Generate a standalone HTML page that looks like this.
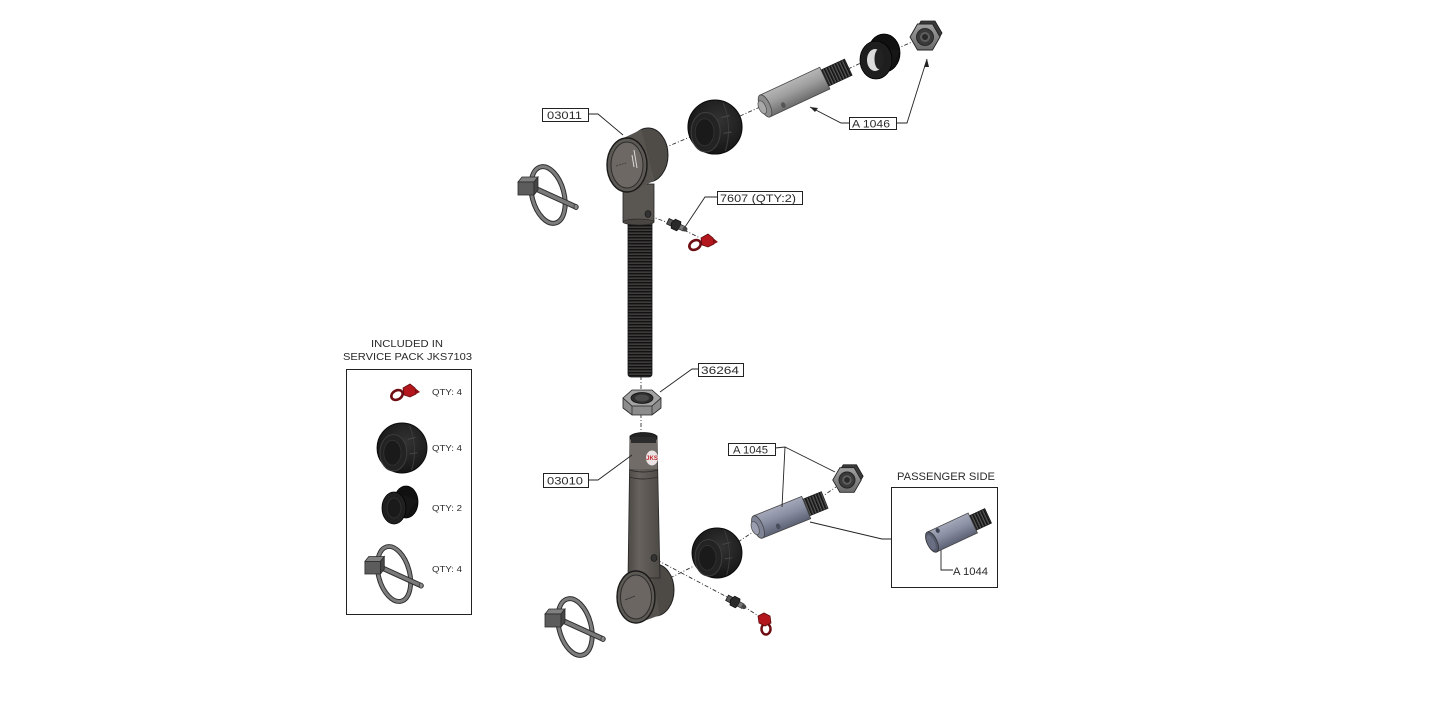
<!DOCTYPE html>
<html><head><meta charset="utf-8">
<style>
html,body{margin:0;padding:0;background:#fff;}
svg{display:block;}
text{font-family:"Liberation Sans",sans-serif;fill:#2a2a2a;}
</style></head><body>
<svg width="1440" height="706" viewBox="0 0 1440 706" xmlns="http://www.w3.org/2000/svg">
<defs>
 <pattern id="thr" width="6" height="3" patternUnits="userSpaceOnUse">
  <rect width="6" height="3" fill="#2e2d2c"/>
  <rect width="6" height="1.1" fill="#121212"/>
  <rect y="2" width="6" height="0.5" fill="#4d4b49"/>
 </pattern>
 <pattern id="thrv" width="3" height="6" patternUnits="userSpaceOnUse">
  <rect width="3" height="6" fill="#353535"/>
  <rect width="1.1" height="6" fill="#111"/>
  <rect x="2" width="0.6" height="6" fill="#666"/>
 </pattern>
 <linearGradient id="pinG" x1="0" y1="0" x2="0" y2="1">
  <stop offset="0" stop-color="#b6b6b6"/><stop offset="0.45" stop-color="#9d9d9d"/><stop offset="1" stop-color="#6c6c6c"/>
 </linearGradient>
 <linearGradient id="pinB" x1="0" y1="0" x2="0" y2="1">
  <stop offset="0" stop-color="#a4a8ba"/><stop offset="0.45" stop-color="#8a8ea2"/><stop offset="1" stop-color="#5d6174"/>
 </linearGradient>
 <radialGradient id="ballG" cx="0.58" cy="0.38" r="0.65">
  <stop offset="0" stop-color="#333"/><stop offset="1" stop-color="#141414"/>
 </radialGradient>
 <linearGradient id="tubeG" x1="0" y1="0" x2="1" y2="0">
  <stop offset="0" stop-color="#4c4844"/><stop offset="0.35" stop-color="#67625d"/><stop offset="1" stop-color="#4d4945"/>
 </linearGradient>
 <linearGradient id="nutG" x1="0" y1="0" x2="0" y2="1">
  <stop offset="0" stop-color="#a0a0a0"/><stop offset="1" stop-color="#6a6a6a"/>
 </linearGradient>
 <g id="lynch">
  <ellipse cx="0" cy="0" rx="16" ry="29" transform="rotate(-15)" fill="none" stroke="#2e2e2e" stroke-width="5"/>
  <ellipse cx="0" cy="0" rx="16" ry="29" transform="rotate(-15)" fill="none" stroke="#7d7d7d" stroke-width="3"/>
  <line x1="-16" y1="-8" x2="28" y2="12" stroke="#2e2e2e" stroke-width="5.5" stroke-linecap="round"/>
  <line x1="-16" y1="-8" x2="28" y2="12" stroke="#7a7a7a" stroke-width="3.5" stroke-linecap="round"/>
  <ellipse cx="28" cy="12" rx="2" ry="2.6" fill="#8a8a8a" stroke="#333" stroke-width="0.8"/>
  <polygon points="-30,-13 -26,-18 -10,-18 -14,-13" fill="#808080" stroke="#2a2a2a" stroke-width="0.8"/>
  <rect x="-30" y="-13" width="16" height="13" fill="#5c5c5c" stroke="#2a2a2a" stroke-width="0.8"/>
  <polygon points="-14,-13 -10,-18 -10,-5 -14,0" fill="#464646" stroke="#2a2a2a" stroke-width="0.8"/>
 </g>
 <g id="ball">
  <circle r="26" fill="url(#ballG)" stroke="#0a0a0a" stroke-width="1"/>
  <ellipse cx="-9" cy="5" rx="14" ry="19" fill="#232323" stroke="#3e3e3e" stroke-width="1"/>
  <ellipse cx="-10" cy="5" rx="9" ry="13" fill="#1a1a1a" stroke="#333" stroke-width="0.8"/>
  <path d="M8,-23 Q17,0 10,23" fill="none" stroke="#3c3c3c" stroke-width="1"/>
  <path d="M6,-9 l8,-2 M8,6 l8,-1" stroke="#474747" stroke-width="1"/>
 </g>
 <g id="cap">
  <ellipse cx="-9" cy="4" rx="6" ry="4.5" transform="rotate(-30 -9 4)" fill="none" stroke="#6e0e12" stroke-width="2.6"/>
  <path d="M-3,-3 L4,-7 L9,-3 L10,3 L4,6 L-2,4 Z" fill="#b3161c" stroke="#5e0a0d" stroke-width="0.8"/>
  <path d="M9,-3 L14,1 L10,3 Z" fill="#8a1015"/>
 </g>
 <g id="zerk">
  <rect x="-9" y="-3" width="6" height="6" fill="#555" stroke="#1a1a1a" stroke-width="0.8"/>
  <polygon points="-3,-5 3,-5 5,0 3,5 -3,5 -5,0" fill="#2a2a2a" stroke="#111" stroke-width="0.8"/>
  <rect x="4" y="-2.5" width="5" height="5" fill="#777" stroke="#222" stroke-width="0.6"/>
  <circle cx="10" cy="0" r="2.4" fill="#444"/>
 </g>
 <g id="hexnut">
  <polygon points="17,-4 10,-16 -4,-16 -11,-4 -4,8 10,8" fill="#3a3a3a" stroke="#1a1a1a" stroke-width="0.8"/>
  <polygon points="15,0 7.5,13 -7.5,13 -15,0 -7.5,-13 7.5,-13" fill="url(#nutG)" stroke="#222" stroke-width="0.9"/>
  <circle r="8.5" fill="#3a3a3a" stroke="#1c1c1c" stroke-width="0.8"/>
  <circle r="5" fill="#5e5e5e"/>
  <circle r="3" fill="#2a2a2a"/>
 </g>
</defs>

<!-- ================= dashed axis lines ================= -->
<g stroke="#333" stroke-width="0.9" fill="none" stroke-dasharray="4 2 1 2">
 <line x1="664" y1="148" x2="690" y2="137"/>
 <line x1="740" y1="116" x2="760" y2="107"/>
 <line x1="848" y1="69" x2="863" y2="62"/>
 <line x1="896" y1="49" x2="912" y2="42"/>
 <line x1="650" y1="216" x2="669" y2="223"/>
 <line x1="684" y1="230" x2="700" y2="238"/>
 <line x1="641" y1="376" x2="641" y2="389"/>
 <line x1="641" y1="414" x2="641" y2="433"/>
 <line x1="657" y1="560" x2="727" y2="597"/>
 <line x1="743" y1="606" x2="757" y2="615"/>
 <line x1="670" y1="578" x2="694" y2="566"/>
 <line x1="738" y1="542" x2="756" y2="530"/>
 <line x1="820" y1="498" x2="836" y2="487"/>
</g>

<!-- ================= upper eye 03011 ================= -->
<rect x="628" y="218" width="24" height="159" rx="3" fill="url(#thr)" stroke="#111" stroke-width="0.8"/>
<rect x="623" y="184" width="31" height="38" fill="#5a5651" stroke="#222" stroke-width="0.8"/>
<ellipse cx="638.5" cy="222" rx="15.5" ry="3" fill="#4a4642" stroke="#222" stroke-width="0.6"/>
<ellipse cx="648" cy="214" rx="3" ry="3.5" fill="#333" stroke="#111" stroke-width="0.6"/>
<ellipse cx="648" cy="155" rx="20" ry="27" fill="#4f4b47" stroke="#1e1e1e" stroke-width="1"/>
<polygon points="620.4,139.5 641.4,129.5 654.6,180.5 633.6,190.5" fill="#57534e"/>
<ellipse cx="627" cy="165" rx="20" ry="27" fill="#5d5954" stroke="#1a1a1a" stroke-width="1.4"/>
<ellipse cx="627" cy="165" rx="16" ry="23" fill="#6d6863" stroke="#2c2c2c" stroke-width="1"/>
<path d="M634,150 l3,18 M632,155 l2,12" stroke="#d8d8d8" stroke-width="1"/>
<path d="M616,166 l10,-3" stroke="#333" stroke-width="0.7" stroke-dasharray="2 1"/>

<!-- upper ball -->
<use href="#ball" transform="translate(715,127) scale(1.04)"/>

<!-- pin A1046 -->
<g transform="translate(765,106) rotate(-25)">
 <rect x="64" y="-9" width="28" height="18" fill="url(#thrv)" stroke="#111" stroke-width="0.6"/>
 <rect x="0" y="-12" width="66" height="24" fill="url(#pinG)" stroke="#444" stroke-width="0.8"/>
 <ellipse cx="0" cy="0" rx="5" ry="12" fill="#8c8c8c" stroke="#444" stroke-width="0.8"/>
 <ellipse cx="-3" cy="0" rx="3.5" ry="7" fill="#a8a8a8" stroke="#555" stroke-width="0.8"/>
 <ellipse cx="17" cy="7" rx="2.2" ry="3" fill="#555"/>
</g>

<!-- washer top -->
<ellipse cx="884" cy="53" rx="16" ry="19" fill="#111" stroke="#000" stroke-width="0.8"/>
<polygon points="862,56 870,49 900,50 892,67" fill="#161616"/>
<ellipse cx="876" cy="60" rx="16" ry="19" fill="#1e1e1e" stroke="#000" stroke-width="0.8"/>
<ellipse cx="875" cy="60" rx="8" ry="11" fill="#dcdcdc"/>
<ellipse cx="879" cy="59" rx="4.5" ry="10" fill="#222"/>

<!-- top hex nut -->
<use href="#hexnut" transform="translate(925,37)"/>

<!-- top grease fitting and cap -->
<use href="#zerk" transform="translate(676,225) rotate(25)"/>
<use href="#cap" transform="translate(704,241)"/>

<!-- top lynch pin -->
<use href="#lynch" transform="translate(548,195)"/>

<!-- ================= nut 36264 ================= -->
<polygon points="623,398 623,408 632,415 652,415 661,408 661,398" fill="#8c8c8c" stroke="#222" stroke-width="0.8"/>
<line x1="632" y1="406" x2="632" y2="415" stroke="#333" stroke-width="0.8"/>
<line x1="652" y1="406" x2="652" y2="415" stroke="#333" stroke-width="0.8"/>
<polygon points="661,398 652,390 632,390 623,398 632,406 652,406" fill="#a3a3a3" stroke="#222" stroke-width="0.8"/>
<ellipse cx="642" cy="398" rx="11" ry="5.5" fill="#2e2e2e" stroke="#111" stroke-width="0.8"/>
<ellipse cx="642" cy="398" rx="7" ry="3.5" fill="#4a4a4a"/>

<!-- ================= lower eye 03010 ================= -->
<ellipse cx="655" cy="590" rx="19" ry="26" fill="#4d4945" stroke="#1e1e1e" stroke-width="1"/>
<polygon points="631.1,571.9 650.1,564.9 659.9,615.1 640.9,622.1" fill="#56524d"/>
<polygon points="630,436 657,436 660,578 628,578" fill="url(#tubeG)" stroke="#262626" stroke-width="0.8"/>
<polygon points="630,440 657,440 657.6,469 629.6,469" fill="#716c67"/>
<path d="M629.6,470 Q643,474 657.6,470 M629.4,477 Q643,481 657.8,477" fill="none" stroke="#2c2c2c" stroke-width="0.9"/>
<ellipse cx="643.5" cy="437" rx="13.5" ry="4.5" fill="#242424" stroke="#111" stroke-width="0.8"/>
<rect x="631" y="437" width="25" height="6" fill="#2c2c2c"/>
<ellipse cx="652" cy="458" rx="6" ry="7.5" fill="#ece4e4"/>
<text x="652" y="460" font-size="6" font-weight="bold" text-anchor="middle" style="fill:#c0282d">JKS</text>
<ellipse cx="654" cy="558" rx="3" ry="3.5" fill="#333" stroke="#111" stroke-width="0.6"/>
<ellipse cx="636" cy="597" rx="19" ry="26" fill="#5d5954" stroke="#1a1a1a" stroke-width="1.4"/>
<ellipse cx="636" cy="597" rx="15.5" ry="22" fill="#6b6661" stroke="#2c2c2c" stroke-width="1"/>
<path d="M625,600 l10,-4" stroke="#333" stroke-width="0.7"/>

<!-- lower ball -->
<use href="#ball" transform="translate(717,553) scale(0.96)"/>

<!-- pin A1045 -->
<g transform="translate(758,527) rotate(-22)">
 <rect x="50" y="-9" width="22" height="18" fill="url(#thrv)" stroke="#111" stroke-width="0.6"/>
 <rect x="0" y="-12" width="52" height="24" fill="url(#pinB)" stroke="#444" stroke-width="0.8"/>
 <ellipse cx="0" cy="0" rx="5" ry="12" fill="#7f8396" stroke="#444" stroke-width="0.8"/>
 <ellipse cx="-3" cy="0" rx="3.5" ry="7" fill="#9a9eb0" stroke="#555" stroke-width="0.8"/>
 <ellipse cx="19" cy="7" rx="2.2" ry="3" fill="#4a4d5c"/>
</g>

<!-- lower hex nut -->
<use href="#hexnut" transform="translate(847,480) scale(0.95)"/>

<!-- lower grease fitting and cap -->
<use href="#zerk" transform="translate(735,602) rotate(28)"/>
<g transform="translate(764,620)">
 <ellipse cx="2" cy="9" rx="4.5" ry="5.5" fill="none" stroke="#6e0e12" stroke-width="2.5"/>
 <path d="M-6,-4 L0,-7 L6,-4 L7,3 L1,6 L-5,3 Z" fill="#b3161c" stroke="#5e0a0d" stroke-width="0.8"/>
</g>

<!-- lower lynch pin -->
<use href="#lynch" transform="translate(575,627)"/>

<!-- ================= leaders ================= -->
<g stroke="#222" stroke-width="0.9" fill="none">
 <polyline points="588,114 598,114 623,135"/>
 <polyline points="849,123 841,123 810,107"/>
 <polyline points="896,123 907,123 927,59"/>
 <polyline points="717,197 705,197 685,227"/>
 <polyline points="698,369 692,369 660,392"/>
 <polyline points="588,480 598,480 632,455"/>
 <polyline points="775,448 785,447 782,507"/>
 <line x1="785" y1="447" x2="835" y2="472"/>
 <polyline points="810,522 882,539 891,539"/>
 <polyline points="941,547 941,570 953,570"/>
</g>
<g fill="#222">
 <polygon points="810,107 818,108 815,112"/>
 <polygon points="927,59 924,67 929,67"/>
</g>

<!-- ================= label boxes ================= -->
<g fill="#fff" stroke="#222" stroke-width="1">
 <rect x="542.5" y="108.5" width="46" height="13"/>
 <rect x="849.5" y="117.5" width="47" height="12"/>
 <rect x="717.5" y="191.5" width="85" height="13"/>
 <rect x="698.5" y="363.5" width="45" height="13"/>
 <rect x="543.5" y="473.5" width="45" height="14"/>
 <rect x="728.5" y="443.5" width="47" height="12"/>
</g>
<g font-size="11">
 <text x="547" y="119" textLength="35" lengthAdjust="spacingAndGlyphs">03011</text>
 <text x="852" y="127.5" textLength="38" lengthAdjust="spacingAndGlyphs">A 1046</text>
 <text x="720" y="202" textLength="76" lengthAdjust="spacingAndGlyphs">7607 (QTY:2)</text>
 <text x="701" y="374" textLength="38" lengthAdjust="spacingAndGlyphs">36264</text>
 <text x="547" y="484.5" textLength="36" lengthAdjust="spacingAndGlyphs">03010</text>
 <text x="733" y="453.5" textLength="35" lengthAdjust="spacingAndGlyphs">A 1045</text>
 <text x="953" y="575" textLength="35" lengthAdjust="spacingAndGlyphs">A 1044</text>
</g>

<!-- ================= passenger side ================= -->
<text x="897" y="480" font-size="11" textLength="98" lengthAdjust="spacingAndGlyphs">PASSENGER SIDE</text>
<rect x="891.5" y="487.5" width="106" height="100" fill="none" stroke="#222" stroke-width="1"/>
<g transform="translate(932,542) rotate(-25)">
 <rect x="43" y="-8" width="19" height="16" fill="url(#thrv)" stroke="#111" stroke-width="0.6"/>
 <rect x="0" y="-11" width="45" height="22" fill="url(#pinB)" stroke="#444" stroke-width="0.8"/>
 <ellipse cx="0" cy="0" rx="5" ry="11" fill="#55596c" stroke="#333" stroke-width="0.8"/>
 <ellipse cx="-1" cy="0" rx="3.5" ry="8" fill="#6a6e82"/>
 <ellipse cx="10" cy="-8" rx="2" ry="2.5" fill="#3e4150"/>
</g>

<!-- ================= service pack box ================= -->
<text x="407" y="347" font-size="10" text-anchor="middle" textLength="72" lengthAdjust="spacingAndGlyphs">INCLUDED IN</text>
<text x="343" y="360" font-size="10" textLength="129" lengthAdjust="spacingAndGlyphs">SERVICE PACK JKS7103</text>
<rect x="346.5" y="369.5" width="125" height="245" fill="none" stroke="#222" stroke-width="1"/>
<use href="#cap" transform="translate(406,391)"/>
<use href="#ball" transform="translate(402,448) scale(0.96)"/>
<g>
 <ellipse cx="406" cy="502" rx="12" ry="16" fill="#111" stroke="#000" stroke-width="0.8"/>
 <polygon points="382,505 393,492 418,500 404,518" fill="#161616"/>
 <ellipse cx="394" cy="508" rx="12" ry="16" fill="#202020" stroke="#000" stroke-width="0.8"/>
 <ellipse cx="394" cy="508" rx="7" ry="10" fill="#1a1a1a" stroke="#2e2e2e" stroke-width="1"/>
</g>
<use href="#lynch" transform="translate(394,574) scale(0.97)"/>
<g font-size="8.5">
 <text x="432" y="395" textLength="30" lengthAdjust="spacingAndGlyphs">QTY: 4</text>
 <text x="432" y="451" textLength="30" lengthAdjust="spacingAndGlyphs">QTY: 4</text>
 <text x="432" y="511" textLength="30" lengthAdjust="spacingAndGlyphs">QTY: 2</text>
 <text x="432" y="572" textLength="30" lengthAdjust="spacingAndGlyphs">QTY: 4</text>
</g>
</svg>
</body></html>
